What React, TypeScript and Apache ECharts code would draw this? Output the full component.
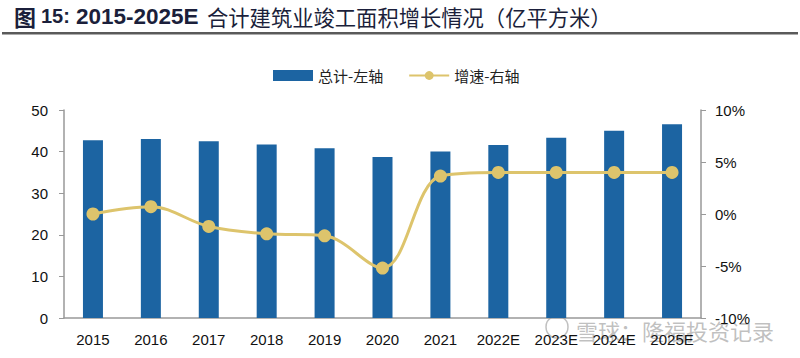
import React, { useEffect, useRef } from "react";
import * as echarts from "echarts";

const categories = ["2015", "2016", "2017", "2018", "2019", "2020", "2021", "2022E", "2023E", "2024E", "2025E"];
const totalValues = [42.7, 43.0, 42.5, 41.7, 40.8, 38.7, 40.0, 41.6, 43.3, 45.0, 46.6];
const growthValues = [0.0, 0.7, -1.2, -1.9, -2.1, -5.2, 3.65, 4.0, 4.0, 4.0, 4.0];
const leftTicks = [0, 50, 10];
const rightTicks = [-10, 10, 5];

const titleParts = ["图", "15:", "2015-2025E", "合计建筑业竣工面积增长情况（亿平方米）"];
const legendNames = ["总计-左轴", "增速-右轴"];
const watermark = "雪球：隆福投资记录";

export default function App() {
  const ref = useRef<HTMLDivElement>(null);
  useEffect(() => {
    if (!ref.current) return;
    const chart = echarts.init(ref.current, null, { renderer: "svg" });
    const font = "Liberation Sans, Arial, sans-serif";
    const titleColor = "#1B1F3B";
    chart.setOption({
      animation: false,
      backgroundColor: "#fff",
      textStyle: { fontFamily: font },
      legend: {
        top: 63,
        left: 268,
        itemGap: 25,
        itemWidth: 40,
        itemHeight: 11,
        textStyle: { fontSize: 15, color: "#222", fontFamily: "Noto Sans CJK SC" },
        data: [
          { name: legendNames[0], icon: "rect" },
          { name: legendNames[1] },
        ],
      },
      grid: { left: 64, right: 99, top: 110, bottom: 40 },
      xAxis: {
        type: "category",
        data: categories,
        axisLine: { lineStyle: { color: "#999", width: 1.5 } },
        axisTick: { show: false },
        axisLabel: { fontSize: 15, color: "#111", margin: 14, interval: 0 },
      },
      yAxis: [
        {
          type: "value",
          min: leftTicks[0],
          max: leftTicks[1],
          interval: leftTicks[2],
          splitLine: { show: false },
          axisLine: { show: true, lineStyle: { color: "#999", width: 1.5 } },
          axisTick: { show: true, length: 5, lineStyle: { color: "#999" } },
          axisLabel: { fontSize: 15, color: "#111", margin: 16 },
        },
        {
          type: "value",
          min: rightTicks[0],
          max: rightTicks[1],
          interval: rightTicks[2],
          splitLine: { show: false },
          axisLine: { show: true, lineStyle: { color: "#999", width: 1.5 } },
          axisTick: { show: true, length: 5, lineStyle: { color: "#999" } },
          axisLabel: { fontSize: 15, color: "#111", margin: 14, formatter: "{value}%" },
        },
      ],
      series: [
        {
          name: legendNames[0],
          type: "bar",
          data: totalValues,
          barWidth: 20,
          itemStyle: { color: "#1C64A2" },
          yAxisIndex: 0,
        },
        {
          name: legendNames[1],
          type: "line",
          data: growthValues,
          yAxisIndex: 1,
          smooth: 0.35,
          symbol: "circle",
          symbolSize: 13,
          lineStyle: { color: "#DDC46C", width: 3 },
          itemStyle: { color: "#DDC46C" },
        },
      ],
      graphic: [
        {
          type: "text",
          x: 14,
          y: 16,
          style: {
            text: titleParts[0],
            fontSize: 22,
            fontWeight: "bold",
            fill: titleColor,
            fontFamily: "Noto Sans CJK SC",
            verticalAlign: "middle",
          },
        },
        {
          type: "text",
          x: 41,
          y: 16,
          style: {
            text: titleParts[1],
            fontSize: 20,
            fontWeight: "bold",
            fill: titleColor,
            fontFamily: font,
            verticalAlign: "middle",
          },
        },
        {
          type: "text",
          x: 76,
          y: 16,
          style: {
            text: titleParts[2],
            fontSize: 22.5,
            fontWeight: "bold",
            fill: titleColor,
            fontFamily: font,
            verticalAlign: "middle",
          },
        },
        {
          type: "text",
          x: 207,
          y: 16,
          style: {
            text: titleParts[3],
            fontSize: 21.3,
            fill: titleColor,
            fontFamily: "Noto Sans CJK SC",
            verticalAlign: "middle",
          },
        },
        {
          type: "rect",
          shape: { x: 2, y: 32, width: 796, height: 2.5 },
          style: { fill: "#5a5a5a" },
        },
        {
          type: "circle",
          shape: { cx: 557, cy: 327, r: 11 },
          style: { fill: "none", stroke: "rgba(150,150,150,0.6)", lineWidth: 1.5 },
        },
        {
          type: "text",
          x: 576,
          y: 330,
          style: {
            text: watermark,
            fontSize: 22,
            fill: "rgba(150,150,150,0.6)",
            fontFamily: "Noto Sans CJK SC",
            verticalAlign: "middle",
          },
        },
      ],
    });
    return () => chart.dispose();
  }, []);
  return <div ref={ref} style={{ width: 800, height: 358, position: "absolute", left: 0, top: 0 }} />;
}
